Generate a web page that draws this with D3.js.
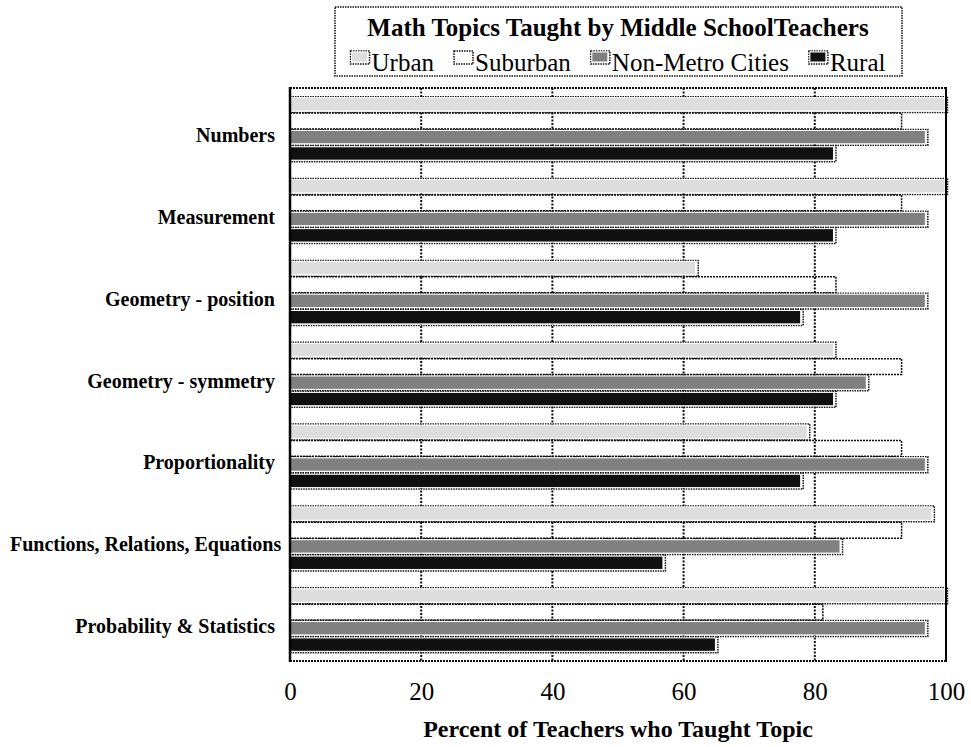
<!DOCTYPE html>
<html>
<head>
<meta charset="utf-8">
<script src="https://cdn.jsdelivr.net/npm/d3@7/dist/d3.min.js"></script>
<style>
    body { margin: 0; background: #ffffff; }
    text { font-family: "Liberation Serif", "Times New Roman", serif; }
</style>
</head>
<body>
<svg id="chart" width="971" height="747"></svg>
<script>
let categories = ["Numbers", "Measurement", "Geometry - position", "Geometry - symmetry",
    "Proportionality", "Functions, Relations, Equations", "Probability & Statistics"];
let seriesNames = ["Urban", "Suburban", "Non-Metro Cities", "Rural"];
let urban = [100, 100, 62, 83, 79, 98, 100];
let suburban = [93, 93, 83, 93, 93, 93, 81];
let nonMetro = [97, 97, 97, 88, 97, 84, 97];
let rural = [83, 83, 78, 83, 78, 57, 65];
let tickValues = [0, 20, 40, 60, 80, 100];

let material = {
    "Urban": "#dddddd",
    "Suburban": "#ffffff",
    "Non-Metro Cities": "#808080",
    "Rural": "#111111",
};

let values = [urban, suburban, nonMetro, rural];
let svg = d3.select("#chart");
let margin = {left: 290, right: 25, top: 88, bottom: 86};
let width = +svg.attr("width");
let height = +svg.attr("height");

let x = d3.scaleLinear()
    .domain([0, 100])
    .range([margin.left, width - margin.right]);

let y = d3.scaleBand()
    .domain(categories)
    .range([margin.top, height - margin.bottom])
    .paddingInner(0.2)
    .paddingOuter(0.1);

let ySeries = d3.scaleBand()
    .domain(seriesNames)
    .range([0, y.bandwidth()]);

// dotted grid lines behind the bars
svg.append("g")
    .attr("class", "grid")
    .selectAll("line")
    .data(tickValues.slice(1, -1))
    .enter().append("line")
    .attr("x1", d => x(d))
    .attr("x2", d => x(d))
    .attr("y1", margin.top)
    .attr("y2", height - margin.bottom)
    .attr("stroke", "#111")
    .attr("stroke-width", 2)
    .attr("stroke-dasharray", "2,1.5");

let rows = [];
for (let i in categories) {
    for (let j in seriesNames) {
        rows.push({cat: categories[i], series: seriesNames[j], value: values[j][i]});
    }
}

let bars = svg.append("g")
    .attr("class", "bars")
    .selectAll("g")
    .data(rows)
    .enter().append("g");

// shadow frame round each bar
bars.append("rect")
    .attr("x", x(0))
    .attr("y", d => y(d.cat) + ySeries(d.series) + 0.5)
    .attr("width", d => x(d.value) - x(0) + 1.5)
    .attr("height", ySeries.bandwidth() - 0.5)
    .attr("fill", "none")
    .attr("stroke", "#111")
    .attr("stroke-width", 1.5)
    .attr("stroke-dasharray", d => d.series === "Suburban" ? "2,1" : "1.5,1");

bars.append("rect")
    .attr("x", x(0))
    .attr("y", d => y(d.cat) + ySeries(d.series) + 1.5)
    .attr("width", d => Math.max(0, x(d.value) - x(0) - 1))
    .attr("height", ySeries.bandwidth() - 3)
    .attr("fill", d => material[d.series])
    .attr("fill-opacity", d => d.series === "Suburban" ? 0 : 1)
    .attr("stroke", "#ffffff")
    .attr("stroke-width", d => d.series === "Suburban" ? 0 : 1);

// plot frame
svg.append("line")
    .attr("x1", x(0)).attr("x2", x(100))
    .attr("y1", margin.top).attr("y2", margin.top)
    .attr("stroke", "#111").attr("stroke-width", 2).attr("stroke-dasharray", "2,1");
svg.append("line")
    .attr("x1", x(0)).attr("x2", x(100))
    .attr("y1", height - margin.bottom).attr("y2", height - margin.bottom)
    .attr("stroke", "#111").attr("stroke-width", 2).attr("stroke-dasharray", "2,1");
svg.append("line")
    .attr("x1", x(0)).attr("x2", x(0))
    .attr("y1", margin.top - 1).attr("y2", height - margin.bottom + 1)
    .attr("stroke", "#000").attr("stroke-width", 2.5);
svg.append("line")
    .attr("x1", x(100)).attr("x2", x(100))
    .attr("y1", margin.top - 1).attr("y2", height - margin.bottom + 1)
    .attr("stroke", "#000").attr("stroke-width", 2);

// x axis without tick marks
let xAxis = svg.append("g")
    .attr("transform", "translate(0," + (height - margin.bottom) + ")")
    .call(d3.axisBottom(x).tickValues(tickValues).tickSize(0).tickPadding(21));
xAxis.select(".domain").remove();
xAxis.selectAll("text")
    .attr("font-family", "Liberation Serif, serif")
    .attr("font-size", 25)
    .attr("fill", "#000");

svg.append("text")
    .attr("x", (x(0) + x(100)) / 2)
    .attr("y", 737)
    .attr("text-anchor", "middle")
    .attr("font-size", 24)
    .attr("font-weight", "bold")
    .text("Percent of Teachers who Taught Topic");

// category labels, right aligned but kept inside the page
svg.append("g")
    .attr("class", "labels")
    .selectAll("text")
    .data(categories)
    .enter().append("text")
    .attr("y", d => y(d) + y.bandwidth() / 2 + 13)
    .attr("text-anchor", "start")
    .attr("font-size", 20)
    .attr("font-weight", "bold")
    .text(d => d)
    .each(function () {
        let w = this.getComputedTextLength();
        d3.select(this).attr("x", Math.max(10, 275 - w));
    });

// legend box
let legend = svg.append("g").attr("class", "legend");
let cx = (x(0) + x(100)) / 2;
legend.append("rect")
    .attr("x", 335)
    .attr("y", 7)
    .attr("width", 567)
    .attr("height", 69)
    .attr("fill", "#fff")
    .attr("stroke", "#111")
    .attr("stroke-width", 1.5)
    .attr("stroke-dasharray", "1.5,1");
legend.append("text")
    .attr("x", cx)
    .attr("y", 36)
    .attr("text-anchor", "middle")
    .attr("font-size", 25)
    .attr("font-weight", "bold")
    .text("Math Topics Taught by Middle SchoolTeachers");

let items = legend.selectAll("g.item")
    .data(seriesNames)
    .enter().append("g")
    .attr("class", "item");
items.append("text")
    .attr("y", 71)
    .attr("font-size", 25)
    .text(d => d);

let swW = 19, swGap = 2, itemGap = 20;
let widths = [];
items.selectAll("text").each(function () {
    widths.push(this.getComputedTextLength());
});
let total = d3.sum(widths) + seriesNames.length * (swW + swGap) + (seriesNames.length - 1) * itemGap;
let pos = cx - total / 2;
items.each(function (d, i) {
    let g = d3.select(this);
    g.append("rect")
        .attr("x", pos)
        .attr("y", 51)
        .attr("width", swW)
        .attr("height", 13)
        .attr("fill", "none")
        .attr("stroke", "#111")
        .attr("stroke-width", 1.5)
        .attr("stroke-dasharray", "1.5,1");
    g.append("rect")
        .attr("x", pos + 1)
        .attr("y", 52)
        .attr("width", swW - 3)
        .attr("height", 10)
        .attr("fill", material[d])
        .attr("stroke", "#fff")
        .attr("stroke-width", d === "Suburban" ? 0 : 1);
    g.select("text").attr("x", pos + swW + swGap);
    pos += swW + swGap + widths[i] + itemGap;
});
</script>
</body>
</html>
